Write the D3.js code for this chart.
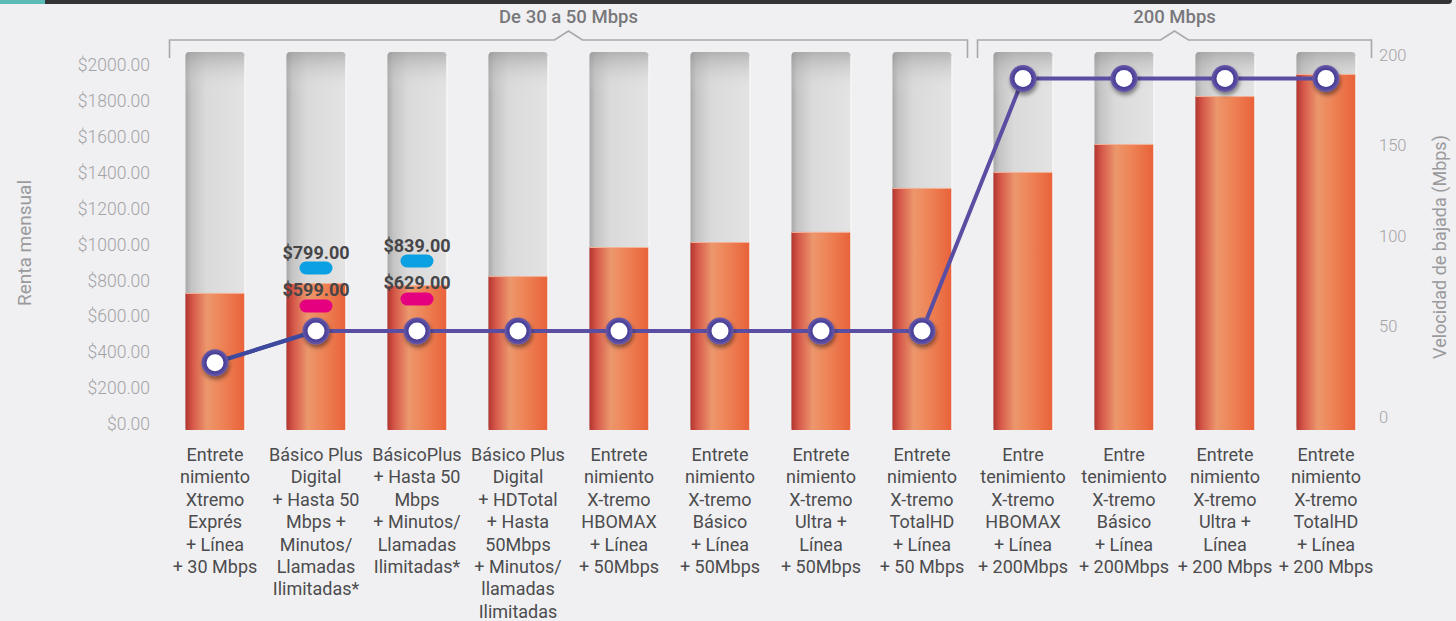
<!DOCTYPE html>
<html>
<head>
<meta charset="utf-8">
<script src="https://d3js.org/d3.v7.min.js"></script>
<style>
  html, body { margin: 0; padding: 0; background: #f0f0f2; }
  svg { display: block; font-family: Roboto, "Noto Sans", sans-serif; }
</style>
</head>
<body>
<div id="chart"></div>
<script>
// plans, monthly rent (left axis) and download speed (right axis)
var categories = [
  ["Entrete", "nimiento", "Xtremo", "Exprés", "+ Línea", "+ 30 Mbps"],
  ["Básico Plus", "Digital", "+ Hasta 50", "Mbps +", "Minutos/", "Llamadas", "Ilimitadas*"],
  ["BásicoPlus", "+ Hasta 50", "Mbps", "+ Minutos/", "Llamadas", "Ilimitadas*"],
  ["Básico Plus", "Digital", "+ HDTotal", "+ Hasta", "50Mbps", "+ Minutos/", "llamadas", "Ilimitadas"],
  ["Entrete", "nimiento", "X-tremo", "HBOMAX", "+ Línea", "+ 50Mbps"],
  ["Entrete", "nimiento", "X-tremo", "Básico", "+ Línea", "+ 50Mbps"],
  ["Entrete", "nimiento", "X-tremo", "Ultra +", "Línea", "+ 50Mbps"],
  ["Entrete", "nimiento", "X-tremo", "TotalHD", "+ Línea", "+ 50 Mbps"],
  ["Entre", "tenimiento", "X-tremo", "HBOMAX", "+ Línea", "+ 200Mbps"],
  ["Entre", "tenimiento", "X-tremo", "Básico", "+ Línea", "+ 200Mbps"],
  ["Entrete", "nimiento", "X-tremo", "Ultra +", "Línea", "+ 200 Mbps"],
  ["Entrete", "nimiento", "X-tremo", "TotalHD", "+ Línea", "+ 200 Mbps"]
];
var rent = [730, 785, 774, 824, 986, 1014, 1070, 1315, 1404, 1560, 1827, 1950];
var speed = [30, 47.5, 47.5, 47.5, 47.5, 47.5, 47.5, 47.5, 187, 187, 187, 187];

var rentTicks = [0, 200, 400, 600, 800, 1000, 1200, 1400, 1600, 1800, 2000];
var speedTicks = [0, 50, 100, 150, 200];

// price callouts: bar index, upper (blue) and lower (magenta) price
var callouts = [
  {bar: 1, price: 799, color: "#0aa0e2"},
  {bar: 1, price: 599, color: "#e4007f"},
  {bar: 2, price: 839, color: "#0aa0e2"},
  {bar: 2, price: 629, color: "#e4007f"}
];
var calloutLevel = [0, 1, 0, 1]; // 0 = upper, 1 = lower

var groups = [
  {label: "De 30 a 50 Mbps", from: 0, to: 7},
  {label: "200 Mbps", from: 8, to: 11}
];

var W = 1456, H = 621;
var svg = d3.select("#chart").append("svg")
  .attr("width", W).attr("height", H);

var defs = svg.append("defs");

// orange bar gradient
var og = defs.append("linearGradient").attr("id", "orange")
  .attr("x1", "0%").attr("x2", "100%").attr("y1", "0%").attr("y2", "0%");
[["0%", "#b3352e"], ["12%", "#d5584a"], ["36%", "#ec976c"], ["60%", "#ee8558"], ["100%", "#e9623a"]]
  .forEach(function(s) { og.append("stop").attr("offset", s[0]).attr("stop-color", s[1]); });

// grey bar gradient
var gg = defs.append("linearGradient").attr("id", "grey")
  .attr("x1", "0%").attr("x2", "100%").attr("y1", "0%").attr("y2", "0%");
[["0%", "#a9a9a9"], ["10%", "#c4c4c4"], ["35%", "#dadada"], ["100%", "#e3e3e3"]]
  .forEach(function(s) { gg.append("stop").attr("offset", s[0]).attr("stop-color", s[1]); });
var gt = defs.append("linearGradient").attr("id", "greyTop")
  .attr("x1", "0%").attr("x2", "0%").attr("y1", "0%").attr("y2", "100%");
[["0%", "#8f8f8f", 0.55], ["100%", "#e3e3e3", 0]]
  .forEach(function(s) { gt.append("stop").attr("offset", s[0]).attr("stop-color", s[1]).attr("stop-opacity", s[2]); });

var dot = defs.append("radialGradient").attr("id", "dot");
[["0%", "#3b3d96"], ["70%", "#4a3f98"], ["100%", "#6a5aa8"]]
  .forEach(function(s) { dot.append("stop").attr("offset", s[0]).attr("stop-color", s[1]); });

var sh = defs.append("filter").attr("id", "shadow")
  .attr("x", "-50%").attr("y", "-50%").attr("width", "200%").attr("height", "200%");
sh.append("feDropShadow").attr("dx", 1).attr("dy", 3).attr("stdDeviation", 2)
  .attr("flood-color", "#000").attr("flood-opacity", 0.45);

// header strip
svg.append("rect").attr("x", -6).attr("y", -6).attr("width", 1458).attr("height", 10)
  .attr("rx", 4).attr("fill", "#333236");
svg.append("rect").attr("x", 0).attr("y", 0).attr("width", 45).attr("height", 4)
  .attr("fill", "#5bbcb7");

// scales
var x = d3.scaleBand()
  .domain(d3.range(categories.length))
  .range([164.5, 1376.5])
  .paddingInner(0.416)
  .paddingOuter(0.208);
var bw = x.bandwidth();

var y = d3.scaleLinear().domain([0, 2000]).range([424, 65]);
var y2 = d3.scaleLinear().domain([0, 200]).range([417, 55]);

var barBottom = y(0) + 6;
var barTop = 52;

// left axis
var gl = svg.append("g").attr("transform", "translate(150,0)")
  .call(d3.axisLeft(y).tickValues(rentTicks).tickSize(0).tickPadding(0)
    .tickFormat(function(d) { return "$" + d3.format(".2f")(d); }));
gl.select(".domain").remove();
gl.selectAll("text").attr("fill", "#a3a3a6").style("font-size", "17.5px")
  .style("font-weight", 300).style("font-family", "Roboto");

// right axis
var gr = svg.append("g").attr("transform", "translate(1379,0)")
  .call(d3.axisRight(y2).tickValues(speedTicks).tickSize(0).tickPadding(0));
gr.select(".domain").remove();
gr.selectAll("text").attr("fill", "#a3a3a6").style("font-size", "16.5px")
  .style("font-weight", 300).style("font-family", "Roboto");

// axis titles
svg.append("text").attr("transform", "translate(31,243) rotate(-90)")
  .attr("text-anchor", "middle").attr("fill", "#9a9a9d")
  .style("font-size", "19px").text("Renta mensual");
svg.append("text").attr("transform", "translate(1446,247) rotate(-90)")
  .attr("text-anchor", "middle").attr("fill", "#9a9a9d")
  .style("font-size", "18px").text("Velocidad de bajada (Mbps)");

// group brackets
groups.forEach(function(g) {
  var x0 = x(g.from) - 16, x1 = x(g.to) + bw + 16, cx = (x0 + x1) / 2;
  svg.append("path")
    .attr("d", "M" + x0 + ",58V40H" + (cx - 14) + "L" + cx + ",31L" + (cx + 14) + ",40H" + x1 + "V58")
    .attr("fill", "none").attr("stroke", "#a8a8ab").attr("stroke-width", 1.6);
  svg.append("text").attr("x", cx).attr("y", 23).attr("text-anchor", "middle")
    .attr("fill", "#78787b").style("font-size", "18.5px").style("font-weight", 500)
    .text(g.label);
});

// bars
var bars = svg.append("g").selectAll("g").data(rent).join("g");
bars.append("rect")
  .attr("x", function(d, i) { return x(i); })
  .attr("y", barTop).attr("width", bw).attr("height", barBottom - barTop)
  .attr("rx", 4).attr("fill", "url(#grey)");
bars.append("rect")
  .attr("x", function(d, i) { return x(i); })
  .attr("y", barTop).attr("width", bw).attr("height", 40)
  .attr("rx", 4).attr("fill", "url(#greyTop)");
bars.append("rect")
  .attr("x", function(d, i) { return x(i); })
  .attr("y", function(d) { return y(d); })
  .attr("width", bw)
  .attr("height", function(d) { return barBottom - y(d); })
  .attr("fill", "url(#orange)");
bars.append("line")
  .attr("x1", function(d, i) { return x(i); })
  .attr("x2", function(d, i) { return x(i) + bw; })
  .attr("y1", function(d) { return y(d) + 0.5; })
  .attr("y2", function(d) { return y(d) + 0.5; })
  .attr("stroke", "#f3b39a").attr("stroke-width", 1);
// thin light edge on right side of bars
bars.append("line")
  .attr("x1", function(d, i) { return x(i) + bw + 0.5; })
  .attr("x2", function(d, i) { return x(i) + bw + 0.5; })
  .attr("y1", barTop + 4).attr("y2", barBottom)
  .attr("stroke", "#fafafa").attr("stroke-width", 1);

// price callouts
var cg = svg.append("g").selectAll("g").data(callouts).join("g");
cg.append("rect")
  .attr("x", function(d) { return x(d.bar) + bw / 2 - 16.5; })
  .attr("y", function(d, i) { return (calloutLevel[i] === 0 ? 261 : 299) + (d.bar === 1 ? 7 : 0) - 6.5; })
  .attr("width", 33).attr("height", 13).attr("rx", 6.5)
  .attr("fill", function(d) { return d.color; });
cg.append("text")
  .attr("x", function(d) { return x(d.bar) + bw / 2; })
  .attr("y", function(d, i) { return (calloutLevel[i] === 0 ? 245 : 282) + (d.bar === 1 ? 7 : 0) + 6.5; })
  .attr("text-anchor", "middle").attr("fill", "#464648")
  .style("font-size", "18px").style("font-weight", 700)
  .text(function(d) { return "$" + d3.format(".2f")(d.price); });

// speed line
var line = d3.line()
  .x(function(d, i) { return x(i) + bw / 2; })
  .y(function(d) { return y2(d); });
svg.append("path").datum(speed)
  .attr("d", line)
  .attr("fill", "none").attr("stroke", "#5a4ea2").attr("stroke-width", 4);
svg.append("path").datum(speed.slice(0, 2))
  .attr("d", line)
  .attr("fill", "none").attr("stroke", "#3e4a9e").attr("stroke-width", 4);

var pts = svg.append("g").selectAll("g").data(speed).join("g")
  .attr("transform", function(d, i) { return "translate(" + (x(i) + bw / 2) + "," + y2(d) + ")"; });
pts.append("circle").attr("r", 13.5).attr("fill", "url(#dot)").attr("filter", "url(#shadow)");
pts.append("circle").attr("r", 8.5).attr("fill", "#ffffff");

// category labels
var labels = svg.append("g").selectAll("text").data(categories).join("text")
  .attr("text-anchor", "middle")
  .attr("fill", "#4c4c4e")
  .style("font-size", "18px").style("font-weight", 400);
labels.selectAll("tspan").data(function(d, i) { return d.map(function(t) { return {t: t, i: i}; }); })
  .join("tspan")
  .attr("x", function(d) { return x(d.i) + bw / 2; })
  .attr("y", function(d, j) { return 461 + j * 22.4; })
  .text(function(d) { return d.t; });
</script>
</body>
</html>
